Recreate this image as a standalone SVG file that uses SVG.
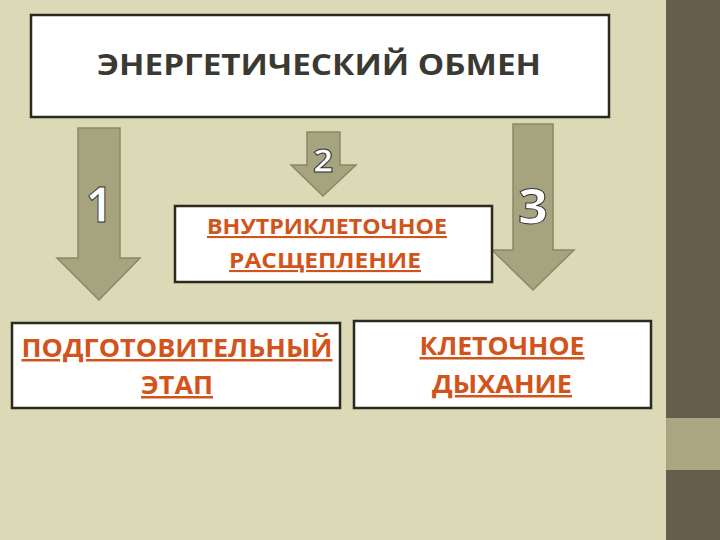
<svg xmlns="http://www.w3.org/2000/svg" width="720" height="540" viewBox="0 0 720 540">
<style>
.box{fill:#fff;stroke:#2b2a20;stroke-width:2.5}
.arr{fill:#a6a47f;stroke:#8a8866;stroke-width:1.5}
.lbl{font-family:"Open Sans","DejaVu Sans",sans-serif;font-weight:bold;fill:#d2541a;text-decoration:underline;text-anchor:middle}
.num{font-family:"Open Sans","DejaVu Sans",sans-serif;font-weight:bold;fill:#fff;stroke:#333;stroke-width:1;text-anchor:middle}
</style>
<rect width="720" height="540" fill="#dbd9b6"/>
<rect x="666" y="0" width="54" height="540" fill="#665e4b"/>
<rect x="666" y="418" width="54" height="52" fill="#aaa682"/>
<g id="connectors">
<g id="arrow1"><polygon class="arr" points="78,128 120,128 120,258 140,258 99,300 57,258 78,258"/><text class="num" x="99" y="222" font-size="48" textLength="26" lengthAdjust="spacingAndGlyphs">1</text></g>
<g id="arrow2"><polygon class="arr" points="307,132 340,132 340,165 356,165 323,196 291,165 307,165"/><text class="num" x="323" y="172" font-size="32" textLength="20" lengthAdjust="spacingAndGlyphs">2</text></g>
<g id="arrow3"><polygon class="arr" points="513,124 553,124 553,250 574,250 533,290 492,250 513,250"/><text class="num" x="533" y="224" font-size="48" textLength="30" lengthAdjust="spacingAndGlyphs">3</text></g>
</g>
<g id="title"><rect class="box" x="31" y="15" width="578" height="102"/><text x="319" y="75" font-family="Open Sans,DejaVu Sans,sans-serif" font-weight="bold" font-size="29" fill="#3a3a33" text-anchor="middle" textLength="444" lengthAdjust="spacingAndGlyphs">ЭНЕРГЕТИЧЕСКИЙ ОБМЕН</text></g>
<g id="n2"><rect class="box" x="175" y="206" width="317" height="76"/><text class="lbl" x="327" y="234" font-size="21" textLength="240" lengthAdjust="spacingAndGlyphs">ВНУТРИКЛЕТОЧНОЕ</text><text class="lbl" x="325" y="268" font-size="21" textLength="192" lengthAdjust="spacingAndGlyphs"> РАСЩЕПЛЕНИЕ</text></g>
<g id="n1"><rect class="box" x="12" y="323" width="328" height="85"/><text class="lbl" x="177" y="357" font-size="25" textLength="311" lengthAdjust="spacingAndGlyphs">ПОДГОТОВИТЕЛЬНЫЙ</text><text class="lbl" x="177" y="394" font-size="25" textLength="72" lengthAdjust="spacingAndGlyphs">ЭТАП</text></g>
<g id="n3"><rect class="box" x="354" y="321" width="297" height="87"/><text class="lbl" x="502" y="355" font-size="25" textLength="165" lengthAdjust="spacingAndGlyphs">КЛЕТОЧНОЕ</text><text class="lbl" x="502" y="393" font-size="25" textLength="140" lengthAdjust="spacingAndGlyphs">ДЫХАНИЕ</text></g>
</svg>
